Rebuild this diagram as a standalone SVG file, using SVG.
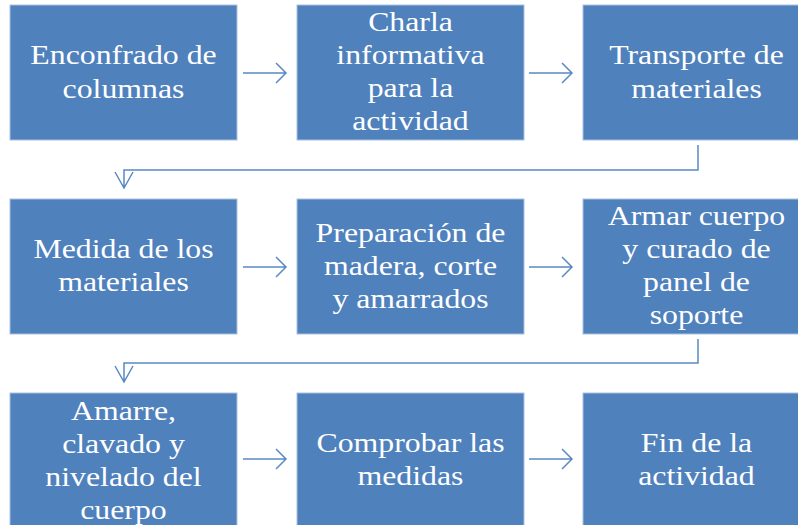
<svg xmlns="http://www.w3.org/2000/svg" width="798" height="525" viewBox="0 0 798 525">
<style>
.box{fill:#4F81BD;stroke:#A9C1E0;stroke-width:1}
.t{font-family:'Liberation Serif',serif;font-size:26.5px;fill:#FFFFFF;text-anchor:middle}
.c{fill:none;stroke:#5A89C4;stroke-width:1.5}
</style>
<rect width="798" height="525" fill="#FFFFFF"/>
<g id="connectors">
<path class="c" d="M243,73 H286 M276,63 L286,73 L276,83"/>
<path class="c" d="M529,73 H572 M562,63 L572,73 L562,83"/>
<path class="c" d="M698,145 V170 H124 V188 M115,172 L124,188 L133,172"/>
<path class="c" d="M243,267 H286 M276,257 L286,267 L276,277"/>
<path class="c" d="M529,267 H572 M562,257 L572,267 L562,277"/>
<path class="c" d="M698,339 V363 H124 V382 M115,366 L124,382 L133,366"/>
<path class="c" d="M243,459 H286 M276,449 L286,459 L276,469"/>
<path class="c" d="M529,459 H572 M562,449 L572,459 L562,469"/>
</g>
<g id="n1"><rect class="box" x="10" y="5" width="227" height="135"/><text class="t" transform="translate(123.5,0) scale(1.2,1)"><tspan x="0" y="64">Enconfrado de</tspan><tspan x="0" y="98">columnas</tspan></text></g>
<g id="n2"><rect class="box" x="297" y="5" width="227" height="135"/><text class="t" transform="translate(410.5,0) scale(1.2,1)"><tspan x="0" y="31">Charla</tspan><tspan x="0" y="64">informativa</tspan><tspan x="0" y="97">para la</tspan><tspan x="0" y="130">actividad</tspan></text></g>
<g id="n3"><rect class="box" x="583" y="5" width="227" height="135"/><text class="t" transform="translate(696.5,0) scale(1.2,1)"><tspan x="0" y="64">Transporte de</tspan><tspan x="0" y="98">materiales</tspan></text></g>
<g id="n4"><rect class="box" x="10" y="199" width="227" height="135"/><text class="t" transform="translate(123.5,0) scale(1.2,1)"><tspan x="0" y="258">Medida de los</tspan><tspan x="0" y="291">materiales</tspan></text></g>
<g id="n5"><rect class="box" x="297" y="199" width="227" height="135"/><text class="t" transform="translate(410.5,0) scale(1.2,1)"><tspan x="0" y="242">Preparación de</tspan><tspan x="0" y="275">madera, corte</tspan><tspan x="0" y="308">y amarrados</tspan></text></g>
<g id="n6"><rect class="box" x="583" y="199" width="227" height="135"/><text class="t" transform="translate(696.5,0) scale(1.2,1)"><tspan x="0" y="225">Armar cuerpo</tspan><tspan x="0" y="258">y curado de</tspan><tspan x="0" y="291">panel de</tspan><tspan x="0" y="324">soporte</tspan></text></g>
<g id="n7"><rect class="box" x="10" y="393" width="227" height="135"/><text class="t" transform="translate(123.5,0) scale(1.2,1)"><tspan x="0" y="420">Amarre,</tspan><tspan x="0" y="453">clavado y</tspan><tspan x="0" y="486">nivelado del</tspan><tspan x="0" y="519">cuerpo</tspan></text></g>
<g id="n8"><rect class="box" x="297" y="393" width="227" height="135"/><text class="t" transform="translate(410.5,0) scale(1.2,1)"><tspan x="0" y="452">Comprobar las</tspan><tspan x="0" y="485">medidas</tspan></text></g>
<g id="n9"><rect class="box" x="583" y="393" width="227" height="135"/><text class="t" transform="translate(696.5,0) scale(1.2,1)"><tspan x="0" y="452">Fin de la</tspan><tspan x="0" y="485">actividad</tspan></text></g>
</svg>
